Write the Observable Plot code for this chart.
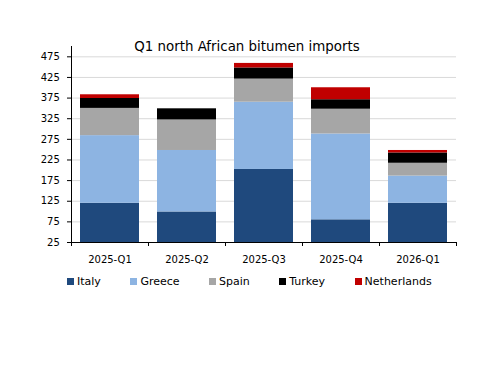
<!DOCTYPE html>
<html>
<head>
<meta charset="utf-8">
<script src="https://cdn.jsdelivr.net/npm/d3@7"></script>
<script src="https://cdn.jsdelivr.net/npm/@observablehq/plot@0.6"></script>
<style>
  html, body { margin: 0; padding: 0; background: #fff; }
  #wrap { position: relative; width: 500px; height: 386px; font-family: "DejaVu Sans", Verdana, sans-serif; }
  #title { position: absolute; left: 0; width: 494px; top: 40px; text-align: center; font-size: 13.4px; color: #000; line-height: 1; }
  #legend { position: absolute; left: 67px; top: 276px; display: flex; gap: 29.5px; font-size: 11px; color: #000; line-height: 1; }
  .item { display: flex; align-items: center; }
  .sw { width: 7px; height: 7px; margin-right: 3px; }
  svg { display: block; }
</style>
</head>
<body>
<div id="wrap">
  <div id="chart"></div>
  <div id="title">Q1 north African bitumen imports</div>
  <div id="legend"></div>
</div>
<script>
const categories = ["2025-Q1", "2025-Q2", "2025-Q3", "2025-Q4", "2026-Q1"];
const seriesNames = ["Italy", "Greece", "Spain", "Turkey", "Netherlands"];
const italy = [120, 99, 202, 80, 120];
const greece = [164, 149, 163, 208, 66];
const spain = [66, 74, 56, 60, 31];
const turkey = [24, 27, 27, 23, 25];
const netherlands = [9, 0, 11, 29, 6];
const yTicks = [25, 75, 125, 175, 225, 275, 325, 375, 425, 475];
const colors = ["#1F497D", "#8DB4E2", "#A6A6A6", "#000000", "#C00000"];

const seriesValues = [italy, greece, spain, turkey, netherlands];
const rows = [];
seriesNames.forEach((s, si) => {
  categories.forEach((c, ci) => rows.push({category: c, series: s, value: seriesValues[si][ci]}));
});

const width = 500, height = 386;
const mL = 71, mR = 44, mT = 46, mB = 144;
const step = (width - mL - mR) / categories.length;

const chart = Plot.plot({
  width, height,
  marginLeft: mL, marginRight: mR, marginTop: mT, marginBottom: mB,
  style: {fontFamily: "DejaVu Sans, Verdana, sans-serif", fontSize: "10px", color: "#000", background: "#fff"},
  x: {domain: categories, paddingInner: 0.23, paddingOuter: 0.115, label: null},
  y: {domain: [25, 500], ticks: yTicks, label: null},
  color: {domain: seriesNames, range: colors},
  marks: [
    Plot.ruleY(yTicks.filter(d => d > 25), {stroke: "#d9d9d9", strokeWidth: 1}),
    Plot.barY(rows, {x: "category", y: "value", fill: "series", order: seriesNames, clip: true}),
    Plot.axisY({ticks: yTicks, tickSize: 4, tickPadding: 7.7, tickFormat: d => d, fontSize: 10, label: null}),
    Plot.axisX({tickSize: 0, tickPadding: 13.5, fontSize: 10, label: null}),
    Plot.frame({anchor: "left", stroke: "#000"}),
    Plot.ruleY([25], {stroke: "#000"}),
    Plot.ruleX(categories, {x: d => d, dx: -step / 2, stroke: "#000", insetTop: height - mT - mB, insetBottom: -4}),
    Plot.ruleX(categories.slice(-1), {x: d => d, dx: step / 2, stroke: "#000", insetTop: height - mT - mB, insetBottom: -4})
  ]
});
document.getElementById("chart").appendChild(chart);

const legend = document.getElementById("legend");
seriesNames.forEach((s, i) => {
  const it = document.createElement("div");
  it.className = "item";
  it.innerHTML = `<span class="sw" style="background:${colors[i]}"></span><span>${s}</span>`;
  legend.appendChild(it);
});
</script>
</body>
</html>
